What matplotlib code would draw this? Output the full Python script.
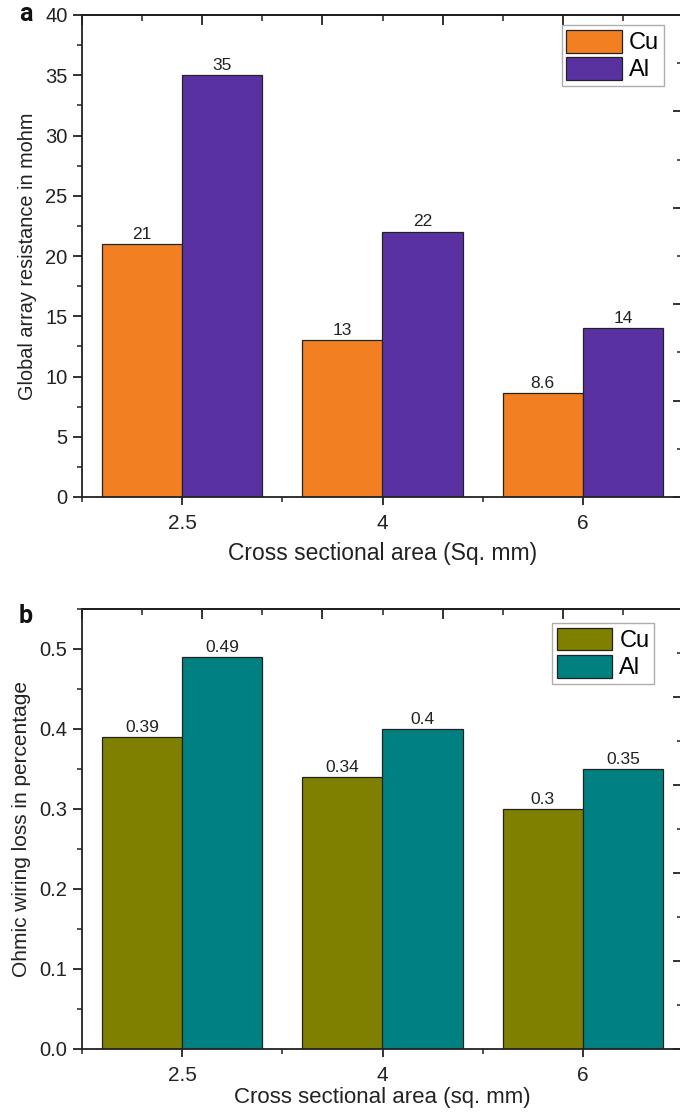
import matplotlib
matplotlib.use("Agg")
import matplotlib.pyplot as plt
from matplotlib.ticker import MultipleLocator, FixedLocator
import numpy as np

plt.rcParams['font.family'] = ['Liberation Sans', 'DejaVu Sans']

# ---- data ----
categories = ["2.5", "4", "6"]
resistance_cu = [21, 13, 8.6]
resistance_al = [35, 22, 14]
loss_cu = [0.39, 0.34, 0.30]
loss_al = [0.49, 0.40, 0.35]
series_names = ["Cu", "Al"]

W, H = 680, 1115
fig = plt.figure(figsize=(W / 100, H / 100), dpi=100)
INK = "#222222"


def box(left, top, right, bottom):
    return [left / W, 1 - bottom / H, (right - left) / W, (bottom - top) / H]


def fmt(v):
    return f"{v:g}"


def panel(ax, cu, al, colors, ylim, major, minor, ylabel, ylabel_size,
          xlabel, xlabel_size, xlabel_pad, letter, letter_y, legend_anchor):
    x = np.arange(len(categories))
    width = 0.4
    xlim = (-0.5, 2.5)
    b1 = ax.bar(x - width / 2, cu, width, color=colors[0], edgecolor=INK,
                linewidth=0.9, label=series_names[0], zorder=2)
    b2 = ax.bar(x + width / 2, al, width, color=colors[1], edgecolor=INK,
                linewidth=0.9, label=series_names[1], zorder=2)
    for bars, vals in ((b1, cu), (b2, al)):
        for rect, v in zip(bars, vals):
            ax.text(rect.get_x() + rect.get_width() / 2, v + ylim[1] * 0.005,
                    fmt(v), ha="center", va="bottom", fontsize=12.5,
                    color=INK)

    ax.set_xlim(*xlim)
    ax.set_ylim(*ylim)
    ax.set_xticks(x)
    ax.set_xticklabels(categories)
    ax.xaxis.set_minor_locator(FixedLocator([-0.5, 0.5, 1.5]))
    ax.yaxis.set_major_locator(MultipleLocator(major))
    ax.yaxis.set_minor_locator(MultipleLocator(minor))
    if major < 1:
        ax.yaxis.set_major_formatter(plt.FuncFormatter(lambda v, p: f"{v:.1f}"))
    ax.tick_params(axis="y", which="major", direction="out", length=6.5,
                   width=1.3, labelsize=14.5, colors=INK, pad=4)
    ax.tick_params(axis="x", which="major", direction="out", length=6,
                   width=1.3, labelsize=15, colors=INK, pad=6)
    ax.tick_params(axis="both", which="minor", direction="out", length=3.5,
                   width=1.1, colors=INK)
    for s in ax.spines.values():
        s.set_linewidth(1.3)
        s.set_color(INK)

    # inward ticks along the top and right edges, five divisions each
    frac_major = np.linspace(0, 1, 6)
    frac_minor = np.linspace(0.1, 0.9, 5)
    span = xlim[1] - xlim[0]
    top = ax.secondary_xaxis(
        "top", functions=(lambda v: (v - xlim[0]) / span,
                          lambda f: f * span + xlim[0]))
    top.xaxis.set_major_locator(FixedLocator(frac_major))
    top.xaxis.set_minor_locator(FixedLocator(frac_minor))
    top.tick_params(which="major", direction="in", length=7, width=1.3,
                    labeltop=False, colors=INK)
    top.tick_params(which="minor", direction="in", length=4, width=1.1,
                    colors=INK)
    top.spines["top"].set_linewidth(1.3)
    ymax = ylim[1]
    right = ax.secondary_yaxis(
        "right", functions=(lambda v: v / ymax, lambda f: f * ymax))
    right.yaxis.set_major_locator(FixedLocator(frac_major))
    right.yaxis.set_minor_locator(FixedLocator(frac_minor))
    right.tick_params(which="major", direction="in", length=7, width=1.3,
                      labelright=False, colors=INK)
    right.tick_params(which="minor", direction="in", length=4, width=1.1,
                      colors=INK)

    ax.set_ylabel(ylabel, fontsize=ylabel_size, color=INK, labelpad=6)
    ax.set_xlabel(xlabel, fontsize=xlabel_size, color=INK,
                  labelpad=xlabel_pad)
    ax.text(-0.082, letter_y, letter, transform=ax.transAxes, fontsize=18,
            fontweight="bold", family="Roboto", ha="right", va="baseline",
            color="#111111")

    leg = ax.legend(loc="upper right", bbox_to_anchor=legend_anchor,
                    fontsize=17, frameon=True, fancybox=False,
                    borderaxespad=0, borderpad=0.2, handlelength=2.35,
                    handleheight=1.1, labelspacing=0.12, handletextpad=0.3)
    leg.get_frame().set_edgecolor("#9a9a9a")
    leg.get_frame().set_linewidth(1.0)


ax_a = fig.add_axes(box(82, 15, 683, 497))
panel(ax_a, resistance_cu, resistance_al, ["#F28022", "#5A31A0"],
      (0, 40), 5, 2.5, "Global array resistance in mohm", 14.3,
      "Cross sectional area (Sq. mm)", 16.5, 7, "a", 0.988, (0.968, 0.979))

ax_b = fig.add_axes(box(82, 609, 683, 1049))
panel(ax_b, loss_cu, loss_al, ["#808000", "#008080"],
      (0, 0.55), 0.1, 0.05, "Ohmic wiring loss in percentage", 15,
      "Cross sectional area (sq. mm)", 16, 2, "b", 0.968, (0.952, 0.968))

fig.savefig("out.png", dpi=100)
